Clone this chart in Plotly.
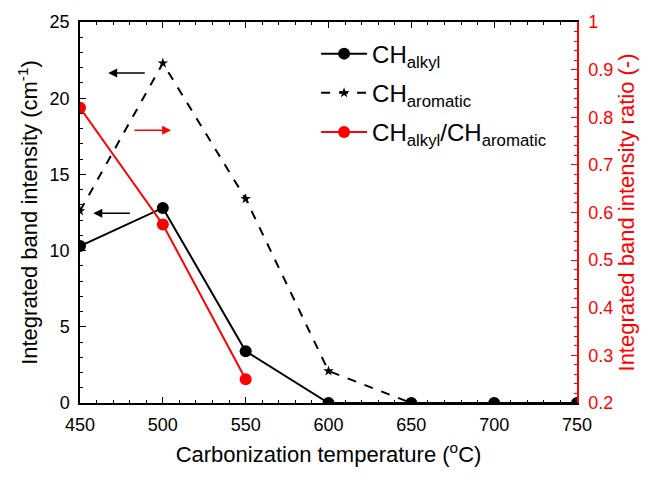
import plotly.graph_objects as go

temps = [450, 500, 550, 600, 650, 700, 750]
ch_alkyl = [10.3, 12.8, 3.4, 0.0, 0.0, 0.0, 0.0]
ch_aromatic = [12.6, 22.3, 13.4, 2.1, 0.0, 0.0, 0.0]
ratio_temps = [450, 500, 550]
ratio = [0.82, 0.575, 0.25]

font = "Liberation Sans, Arial, sans-serif"

fig = go.Figure()
fig.add_trace(go.Scatter(x=temps, y=ch_alkyl, mode="lines+markers",
                         name="CH<sub>alkyl</sub>", legendgroup="a",
                         line=dict(color="black", width=2),
                         marker=dict(symbol="circle", size=12, color="black")))
fig.add_trace(go.Scatter(x=temps, y=ch_aromatic, mode="lines+markers",
                         name="CH<sub>aromatic</sub>", legendgroup="b",
                         line=dict(color="black", width=2, dash="dash"),
                         marker=dict(symbol="star", size=8, color="black")))
fig.add_trace(go.Scatter(x=ratio_temps, y=ratio, mode="lines+markers",
                         name="CH<sub>alkyl</sub>/CH<sub>aromatic</sub>",
                         legendgroup="c",
                         line=dict(color="red", width=2),
                         marker=dict(symbol="circle", size=12, color="red"),
                         yaxis="y2"))

# arrows indicating axes
arrows = [
    dict(x=467, y=21.65, ax=490, ay=21.65, color="black"),
    dict(x=505, y=17.9, ax=482, ay=17.9, color="red"),
    dict(x=458, y=12.45, ax=481, ay=12.45, color="black"),
]
for a in arrows:
    fig.add_annotation(x=a["x"], y=a["y"], ax=a["ax"], ay=a["ay"],
                       xref="x", yref="y", axref="x", ayref="y",
                       text="", showarrow=True, arrowhead=2, arrowsize=1.2,
                       arrowwidth=1.5, arrowcolor=a["color"])

fig.update_layout(
    width=655, height=480,
    margin=dict(l=80, r=78, t=22, b=77),
    paper_bgcolor="white", plot_bgcolor="white",
    font=dict(family=font, size=18, color="black"),
    showlegend=True,
    legend=dict(x=0.475, y=0.975, xanchor="left", yanchor="top",
                bgcolor="rgba(0,0,0,0)", font=dict(size=24),
                itemwidth=46, tracegroupgap=5),
    xaxis=dict(range=[450, 750], dtick=50, showline=True, linecolor="black",
               linewidth=1.5, mirror="ticks", ticks="inside", ticklen=6,
               tickcolor="black", showgrid=False, zeroline=False,
               ticklabelstandoff=5,
               title=dict(text="Carbonization temperature (<sup>o</sup>C)", standoff=12),
               minor=dict(dtick=10, ticks="inside", ticklen=3, tickcolor="black")),
    yaxis=dict(range=[0, 25], dtick=5, showline=True, linecolor="black",
               linewidth=1.5, ticks="inside", ticklen=6, tickcolor="black",
               showgrid=False, zeroline=False, ticklabelstandoff=5,
               title=dict(text="Integrated band intensity (cm<sup>-1</sup>)", standoff=6),
               minor=dict(dtick=1, ticks="inside", ticklen=3, tickcolor="black")),
    yaxis2=dict(range=[0.2, 1.0], dtick=0.1, overlaying="y", side="right",
                showline=True, linecolor="red", linewidth=1.5, ticks="inside",
                ticklen=6, tickcolor="red", showgrid=False, zeroline=False,
                tickfont=dict(color="red"), tickformat=".1~f",
                ticklabelstandoff=6,
                title=dict(text="Integrated band intensity ratio (-)",
                           font=dict(color="red"), standoff=6),
                minor=dict(dtick=0.02, ticks="inside", ticklen=3, tickcolor="red")),
)

fig.write_html("out.html")
